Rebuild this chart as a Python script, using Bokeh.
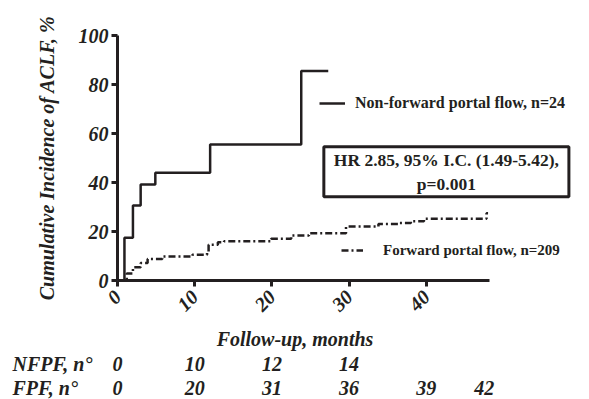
from bokeh.plotting import figure
from bokeh.models import Range1d, FixedTicker, Label, Legend, LegendItem, LinearAxis, FactorRange
from bokeh.layouts import column
from bokeh.core.properties import value
from bokeh.embed import file_html
from bokeh.resources import INLINE
import math

# ---- data ----
nfpf_t = [0, 0.9, 2.0, 3.0, 4.9, 12.0, 23.8, 27.3]
nfpf_v = [0, 17.5, 30.6, 39.2, 44.0, 55.5, 85.5, 85.5]

fpf_t = [0, 1.2, 2.0, 3.0, 3.9, 5.8, 9.7, 11.6, 11.8, 13.0, 13.8, 19.9, 22.5,
         24.8, 29.6, 33.8, 36.4, 38.0, 39.7, 47.8, 48.0]
fpf_v = [0, 2.9, 5.4, 7.1, 8.8, 9.8, 10.5, 11.6, 14.6, 15.6, 16.0, 17.0, 18.4,
         19.3, 22.0, 23.1, 23.5, 24.2, 25.2, 27.5, 27.5]

x_ticks = [0, 10, 20, 30, 40]
y_ticks = [0, 20, 40, 60, 80, 100]

risk_rows = ["FPF, n°", "NFPF, n°"]          # bottom row first
risk_nfpf_t = [0, 10, 20, 30]
risk_nfpf_n = ["0", "10", "12", "14"]
risk_fpf_t = [0, 10, 20, 30, 40, 47.5]
risk_fpf_n = ["0", "20", "31", "36", "39", "42"]

FONT = "Liberation Serif"
INK = "#231f20"
W = 589
FRAME_LEFT = 117
PX_PER_MONTH = 7.72

p = figure(width=W, height=324, output_backend="svg", toolbar_location=None,
           x_range=Range1d(0, (585 - FRAME_LEFT) / PX_PER_MONTH), y_range=Range1d(0, 100),
           min_border_left=FRAME_LEFT, min_border_right=4, min_border_top=35,
           min_border_bottom=44)
p.outline_line_color = None
p.xgrid.visible = False
p.ygrid.visible = False

for ax in (p.xaxis[0], p.yaxis[0]):
    ax.axis_line_width = 3
    ax.major_tick_line_width = 3
    ax.major_tick_out = 6
    ax.major_tick_in = 0
    ax.minor_tick_line_color = None
    ax.major_label_text_font = FONT
    ax.major_label_text_font_style = "bold italic"
    ax.major_label_text_font_size = "20px"
    ax.major_label_text_color = INK
    ax.axis_label_text_font = FONT
    ax.axis_label_text_font_style = "bold italic"
    ax.axis_label_text_font_size = "20px"
    ax.axis_label_text_color = INK
    ax.axis_line_color = INK
    ax.major_tick_line_color = INK

p.xaxis.ticker = FixedTicker(ticks=x_ticks)
p.yaxis.ticker = FixedTicker(ticks=y_ticks)
p.xaxis.bounds = (0, 48.2)
p.yaxis.bounds = (0, 100)
p.xaxis.major_label_orientation = math.pi / 4
p.yaxis.axis_label = "Cumulative Incidence of ACLF, %"
p.yaxis.major_label_standoff = 3
p.xaxis.major_label_standoff = 7
p.yaxis.axis_label_standoff = 18

r1 = p.step(nfpf_t, nfpf_v, mode="after", line_color=INK, line_width=2.5)
r2 = p.step(fpf_t, fpf_v, mode="after", line_color=INK, line_width=2.5,
            line_dash="7 3 2 3")

leg_kw = dict(border_line_color=None, background_fill_alpha=0, padding=0,
              margin=0, spacing=0, glyph_height=20, label_height=20,
              label_text_font=FONT, label_text_font_style="bold",
              label_text_color=INK)
l1 = Legend(items=[LegendItem(label="Non-forward portal flow, n=24", renderers=[r1])],
            location=(202, 167), glyph_width=26, label_standoff=10,
            label_text_font_size="16px", **leg_kw)
l2 = Legend(items=[LegendItem(label="Forward portal flow, n=209", renderers=[r2])],
            location=(224, 20), glyph_width=22, label_standoff=20,
            label_text_font_size="15px", **leg_kw)
p.add_layout(l1)
p.add_layout(l2)

hr = Label(x=42.6, y=44.4, text="HR 2.85, 95% I.C. (1.49-5.42),\np=0.001",
           text_align="center", text_baseline="middle",
           text_font=FONT, text_font_style="bold", text_font_size="17.5px",
           text_color=INK, border_line_color=INK, border_line_width=3,
           background_fill_color="white", padding=(10, 3))
p.add_layout(hr)

# ---- x title + number-at-risk table, on the same time scale ----
q = figure(width=W, height=75, output_backend="svg", toolbar_location=None,
           x_range=Range1d(-FRAME_LEFT / PX_PER_MONTH, (W - FRAME_LEFT) / PX_PER_MONTH),
           y_range=FactorRange(factors=risk_rows, range_padding=0),
           min_border_left=0, min_border_right=0, min_border_top=26, min_border_bottom=0,
           x_axis_location=None, y_axis_location=None)
q.outline_line_color = None
q.xgrid.visible = False
q.ygrid.visible = False
if "frame_align" in p.properties():
    p.frame_align = False
    q.frame_align = False

title_ax = LinearAxis(ticker=FixedTicker(ticks=[]), axis_label="Follow-up, months",
                      axis_line_color=None, major_tick_line_color=None,
                      minor_tick_line_color=None, major_tick_out=0, major_tick_in=0,
                      major_label_text_font_size="0px", major_label_standoff=0,
                      axis_label_text_font=FONT, axis_label_text_font_style="bold italic",
                      axis_label_text_font_size="20px", axis_label_text_color=INK,
                      axis_label_standoff=3)
q.add_layout(title_ax, "above")

txt = dict(text_font=value(FONT), text_font_style="bold italic",
           text_font_size=value("20px"), text_color=INK, text_baseline="middle")
q.text(x=risk_nfpf_t, y=["NFPF, n°"] * len(risk_nfpf_t), text=risk_nfpf_n,
       text_align="center", **txt)
q.text(x=risk_fpf_t, y=["FPF, n°"] * len(risk_fpf_t), text=risk_fpf_n,
       text_align="center", **txt)
q.text(x=[-13.6, -13.6], y=risk_rows, text=risk_rows, text_align="left", **txt)

layout = column(p, q, spacing=0)
open("out.html", "w").write(file_html(layout, INLINE))
